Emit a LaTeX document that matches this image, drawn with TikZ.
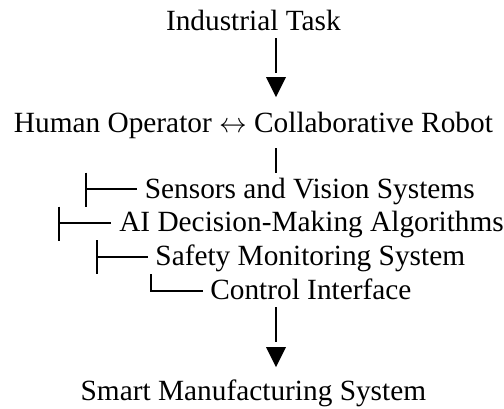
\documentclass[tikz,border=0pt]{standalone}
\usepackage{fontspec}
\setmainfont{Liberation Serif}
\begin{document}
\begin{tikzpicture}[x=0.75pt,y=-0.75pt,
  lbl/.style={inner sep=0pt, font=\fontsize{22}{26}\selectfont},
  ln/.style={line width=1.5pt, line cap=butt},
  tipfill/.style={fill=black}]
\useasboundingbox (0,0) rectangle (504,408);
% text nodes
\node[lbl,anchor=base] (task) at (253.4,30) {Industrial Task};
\node[lbl,anchor=base] (hr) at (253.4,132) {Human Operator $\leftrightarrow$ Collaborative Robot};
\node[lbl,anchor=base west] (sens) at (144.6,198.3) {Sensors and Vision Systems};
\node[lbl,anchor=base west] (ai) at (119,231.7) {AI Decision-Making Algorithms};
\node[lbl,anchor=base west] (safe) at (155.2,265) {Safety Monitoring System};
\node[lbl,anchor=base west] (ctrl) at (210,299) {Control Interface};
\node[lbl,anchor=base] (smart) at (253.4,400) {Smart Manufacturing System};
% coordinates for connectors
\coordinate (a1s) at (276,38);
\coordinate (a1e) at (276,72.5);
\coordinate (a1t) at (276,97);
\coordinate (vs) at (276,148);
\coordinate (ve) at (276,173);
\coordinate (a2s) at (276,307.3);
\coordinate (a2e) at (276,342.3);
\coordinate (a2t) at (276,367);
\coordinate (t1a) at (85.7,172.7);
\coordinate (t1b) at (85.7,206.7);
\coordinate (t1m) at (85.7,189.3);
\coordinate (t1h) at (136.7,189.3);
\coordinate (t2a) at (59.3,206.7);
\coordinate (t2b) at (59.3,240.7);
\coordinate (t2m) at (59.3,223.3);
\coordinate (t2h) at (110.7,223.3);
\coordinate (t3a) at (96.7,240);
\coordinate (t3b) at (96.7,274);
\coordinate (t3m) at (96.7,257.3);
\coordinate (t3h) at (148.3,257.3);
\coordinate (t4a) at (150.7,274);
\coordinate (t4m) at (150.7,290.7);
\coordinate (t4h) at (203.3,290.7);
% top arrow
\draw[ln] (a1s) -- (a1e);
\fill[tipfill] (a1t) -- ++(-10,-20) -- ++(20,0) -- cycle;
% link under human/robot
\draw[ln] (vs) -- (ve);
% tree
\draw[ln] (t1a) -- (t1b);
\draw[ln] (t1m) -- (t1h);
\draw[ln] (t2a) -- (t2b);
\draw[ln] (t2m) -- (t2h);
\draw[ln] (t3a) -- (t3b);
\draw[ln] (t3m) -- (t3h);
\draw[ln] (t4a) -- (t4m) -- (t4h);
% bottom arrow
\draw[ln] (a2s) -- (a2e);
\fill[tipfill] (a2t) -- ++(-10,-20) -- ++(20,0) -- cycle;
\end{tikzpicture}
\end{document}
